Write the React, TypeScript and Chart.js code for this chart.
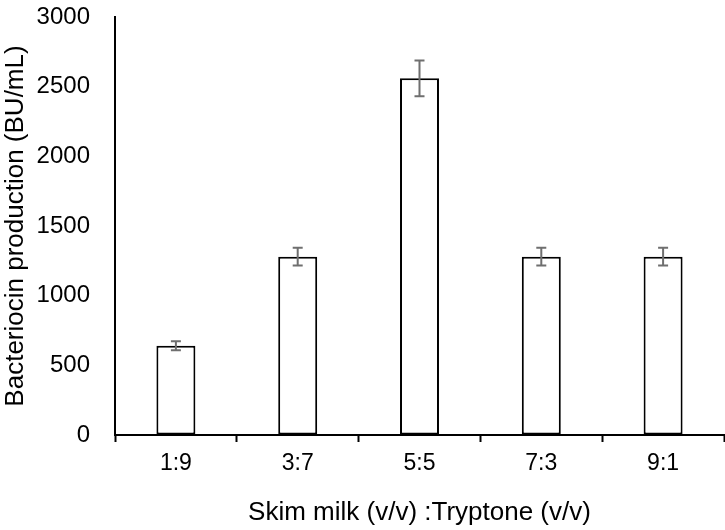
import React, { useEffect, useRef } from "react";
import { Chart, registerables } from "chart.js";

Chart.register(...registerables);

const categories = ["1:9", "3:7", "5:5", "7:3", "9:1"];
const production = [640, 1280, 2560, 1280, 1280];
const errors = [32, 64, 128, 64, 64];
const yTicks = [0, 500, 1000, 1500, 2000, 2500, 3000];

const errorBarPlugin = {
  id: "errorBars",
  afterDatasetsDraw(chart: any) {
    const meta = chart.getDatasetMeta(0);
    const y = chart.scales.y;
    const ctx = chart.ctx;
    ctx.save();
    ctx.strokeStyle = "#6f6f6f";
    ctx.lineWidth = 2;
    meta.data.forEach((bar: any, i: number) => {
      const v = production[i];
      const e = errors[i];
      const x = bar.x;
      const top = y.getPixelForValue(v + e);
      const bot = y.getPixelForValue(v - e);
      const cap = 5;
      ctx.beginPath();
      ctx.moveTo(x, top);
      ctx.lineTo(x, bot);
      ctx.moveTo(x - cap, top);
      ctx.lineTo(x + cap, top);
      ctx.moveTo(x - cap, bot);
      ctx.lineTo(x + cap, bot);
      ctx.stroke();
    });
    ctx.restore();
  },
};

export default function App() {
  const ref = useRef<HTMLCanvasElement | null>(null);
  useEffect(() => {
    if (!ref.current) return;
    const font = "'Liberation Sans', Arial, sans-serif";
    const chart = new Chart(ref.current, {
      type: "bar",
      data: {
        labels: categories,
        datasets: [
          {
            data: production,
            backgroundColor: "#ffffff",
            borderColor: "#000000",
            borderWidth: 2,
            borderSkipped: false,
            categoryPercentage: 1,
            barPercentage: 0.32,
          },
        ],
      },
      options: {
        responsive: false,
        animation: false,
        layout: { autoPadding: false, padding: { top: 17, right: 1, left: 0, bottom: 0 } },
        plugins: {
          legend: { display: false },
          tooltip: { enabled: false },
        },
        scales: {
          x: {
            offset: true,
            grid: {
              offset: true,
              drawOnChartArea: false,
              drawTicks: true,
              tickLength: 7,
              tickColor: "#000000",
              tickWidth: 2,
            },
            border: { display: true, color: "#000000", width: 2 },
            ticks: {
              color: "#000000",
              font: { family: font, size: 23 },
              padding: 8,
            },
            title: {
              display: true,
              text: "Skim milk (v/v) :Tryptone (v/v)",
              color: "#000000",
              font: { family: font, size: 26 },
              padding: { top: 0, bottom: 2 },
            },
            afterFit(scale: any) {
              scale.height = 95;
              scale.paddingLeft = 0;
              scale.paddingRight = 0;
            },
          },
          y: {
            min: 0,
            max: 3000,
            afterBuildTicks(scale: any) {
              scale.ticks = yTicks.map((v) => ({ value: v }));
            },
            grid: { display: true, drawOnChartArea: false, drawTicks: false },
            border: { display: true, color: "#000000", width: 2 },
            ticks: {
              color: "#000000",
              font: { family: font, size: 24 },
              padding: 25,
              callback: (v: any) => String(v),
            },
            title: {
              display: true,
              text: "Bacteriocin production (BU/mL)",
              color: "#000000",
              font: { family: font, size: 26 },
              padding: { top: 0, bottom: 0 },
            },
            afterFit(scale: any) {
              scale.width = 115;
              scale.paddingTop = 0;
              scale.paddingBottom = 0;
            },
          },
        },
      },
      plugins: [errorBarPlugin],
    });
    return () => chart.destroy();
  }, []);
  return (
    <div style={{ position: "fixed", left: 0, top: 0, width: 725, height: 530, background: "#fff" }}>
      <canvas ref={ref} width={725} height={530} style={{ display: "block" }} />
    </div>
  );
}
